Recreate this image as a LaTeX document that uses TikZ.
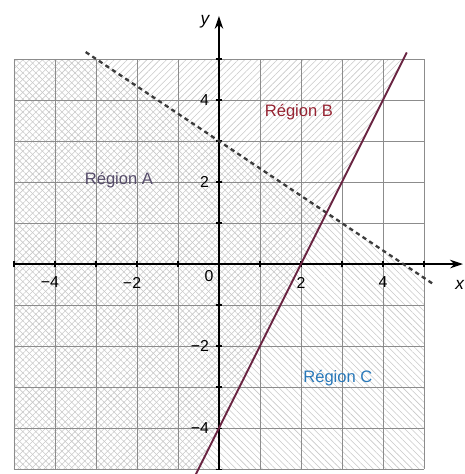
\documentclass[tikz,border=0pt]{standalone}
\usepackage{fontspec}
\setmainfont{Liberation Sans}
\usetikzlibrary{patterns.meta,arrows.meta}
\definecolor{gridgray}{RGB}{140,140,140}
\definecolor{hatchgray}{RGB}{200,200,200}
\definecolor{linered}{RGB}{105,35,65}
\definecolor{dashgray}{RGB}{60,60,60}
\definecolor{regA}{RGB}{85,75,105}
\definecolor{regB}{RGB}{150,35,50}
\definecolor{regC}{RGB}{40,120,185}
\newcommand{\mn}{\char"2212}
\tikzset{
  axis/.style={line width=1pt,-{Stealth[length=9pt,width=6pt]}},
  ticklabel/.style={font=\fontsize{11}{13}\selectfont,inner sep=1pt},
  regionlabel/.style={font=\fontsize{11.5}{13}\selectfont},
  hatchne/.style={pattern={Lines[angle=45,distance=3.2pt,line width=.4pt]},pattern color=hatchgray},
  hatchnw/.style={pattern={Lines[angle=-45,distance=3.2pt,line width=.4pt]},pattern color=hatchgray},
}
\begin{document}
\begin{tikzpicture}
  \useasboundingbox (-5.34,-5.12) rectangle (5.98,6.44);
  % shaded half planes
  \fill[hatchne] (-5,5) -- (4.5,5) -- (-0.5,-5) -- (-5,-5) -- cycle;
  \fill[hatchnw] (-5,5) -- (-3,5) -- (5,-1/3) -- (5,-5) -- (-5,-5) -- cycle;
  \draw[gridgray,line width=.6pt] (-5,-5) grid (5,5);
  % axes
  \coordinate (xa) at (-5,0);
  \coordinate (xb) at (5.95,0);
  \coordinate (ya) at (0,-5);
  \coordinate (yb) at (0,6.05);
  \draw[axis] (xa) -- (xb);
  \draw[axis] (ya) -- (yb);
  \foreach \t in {-5,...,5}
    {\draw[line width=.8pt] (\t,-0.08) -- (\t,0.08);
     \draw[line width=.8pt] (-0.08,\t) -- (0.08,\t);}
  \foreach \x in {-4,-2}
    \node[ticklabel] (lx\x) at (\x-0.12,-0.45) {\mn\pgfmathparse{int(-\x)}\pgfmathresult};
  \foreach \x in {2,4}
    \node[ticklabel] (lx\x) at (\x,-0.45) {\x};
  \foreach \y in {-4,-2}
    \node[ticklabel,anchor=east] (ly\y) at (-0.2,\y) {\mn\pgfmathparse{int(-\y)}\pgfmathresult};
  \foreach \y in {2,4}
    \node[ticklabel,anchor=east] (ly\y) at (-0.2,\y) {\y};
  \node[ticklabel] (zero) at (-0.24,-0.3) {0};
  \node[ticklabel,font=\fontsize{12}{14}\selectfont\itshape] (ylab) at (-0.34,5.9) {y};
  \node[ticklabel,font=\fontsize{12}{14}\selectfont\itshape] (xlab) at (5.87,-0.5) {x};
  % boundary lines
  \coordinate (d1) at (-3.25,5.17);
  \coordinate (d2) at (5.2,-0.47);
  \draw[dashgray,line width=1.6pt,dash pattern=on 3pt off 2.5pt] (d1) -- (d2);
  \coordinate (s1) at (-0.57,-5.14);
  \coordinate (s2) at (4.58,5.16);
  \draw[linered,line width=1.3pt] (s1) -- (s2);
  % region names
  \node[regionlabel,text=regA] (ra) at (-2.44,2.05) {Région A};
  \node[regionlabel,text=regB] (rb) at (1.95,3.7) {Région B};
  \node[regionlabel,text=regC] (rc) at (2.9,-2.78) {Région C};
\end{tikzpicture}
\end{document}
